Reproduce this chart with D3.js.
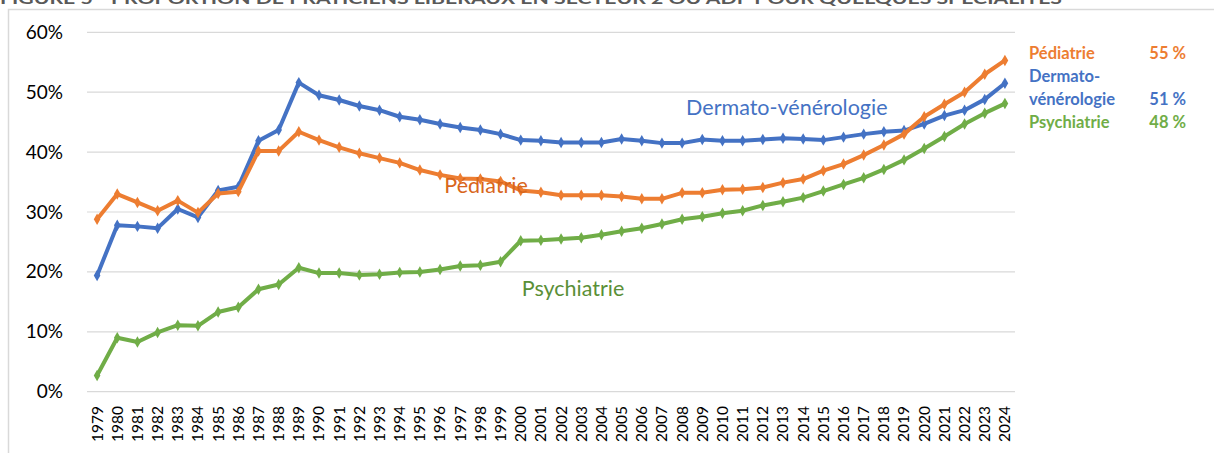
<!DOCTYPE html>
<html>
<head>
<meta charset="utf-8">
<script src="https://cdn.jsdelivr.net/npm/d3@7"></script>
<style>
  body { margin: 0; background: #fff; }
  svg { display: block; font-family: Lato, "Open Sans", sans-serif; }
</style>
</head>
<body>
<svg id="chart" width="1214" height="453"></svg>
<script>
const years = d3.range(1979, 2025).map(String);

const dermato = [19.4, 27.8, 27.6, 27.3, 30.5, 29.1, 33.6, 34.2, 41.9, 43.7,
  51.6, 49.5, 48.7, 47.7, 47.0, 45.9, 45.4, 44.7, 44.1, 43.7,
  43.0, 42.0, 41.9, 41.6, 41.6, 41.6, 42.2, 41.9, 41.5, 41.5,
  42.1, 41.9, 41.9, 42.1, 42.3, 42.2, 42.0, 42.5, 43.0, 43.4,
  43.6, 44.7, 46.1, 47.0, 48.8, 51.5];

const pediatrie = [28.8, 33.0, 31.6, 30.2, 31.9, 29.9, 33.1, 33.4, 40.2, 40.2,
  43.4, 42.0, 40.8, 39.8, 39.0, 38.2, 37.0, 36.2, 35.6, 35.5,
  35.1, 33.6, 33.3, 32.8, 32.8, 32.8, 32.6, 32.2, 32.2, 33.2,
  33.2, 33.7, 33.8, 34.1, 34.9, 35.5, 36.9, 38.0, 39.5, 41.2,
  43.0, 45.9, 48.0, 50.0, 53.0, 55.3];

const psychiatrie = [2.7, 9.0, 8.3, 9.9, 11.1, 11.0, 13.3, 14.1, 17.1, 17.9,
  20.7, 19.8, 19.8, 19.5, 19.6, 19.9, 20.0, 20.4, 21.0, 21.1,
  21.7, 25.2, 25.3, 25.5, 25.7, 26.2, 26.8, 27.3, 28.0, 28.8,
  29.2, 29.8, 30.2, 31.1, 31.7, 32.4, 33.5, 34.6, 35.7, 37.1,
  38.7, 40.6, 42.6, 44.7, 46.5, 48.1];

const yTicks = [0, 10, 20, 30, 40, 50, 60];

const series = [
  { name: "Dermato-vénérologie", values: dermato, color: "#4472C4" },
  { name: "Pédiatrie", values: pediatrie, color: "#ED7D31" },
  { name: "Psychiatrie", values: psychiatrie, color: "#70AD47" }
];

// legend on the right: label lines + final value
const legendRows = [
  { lines: ["Pédiatrie"], value: "55 %", color: "#ED7D31" },
  { lines: ["Dermato-", "vénérologie"], value: "51 %", color: "#4472C4" },
  { lines: ["Psychiatrie"], value: "48 %", color: "#70AD47" }
];

const svg = d3.select("#chart");

// title, cut off at the top of the picture like in the source
svg.append("text")
  .attr("x", 0).attr("y", 4)
  .attr("fill", "#595959")
  .attr("font-size", 16).attr("font-weight", "bold")
  .attr("textLength", 1062).attr("lengthAdjust", "spacingAndGlyphs")
  .text("FIGURE 5 - PROPORTION DE PRATICIENS LIBÉRAUX EN SECTEUR 2 OU ADP POUR QUELQUES SPÉCIALITÉS");

// chart frame
svg.append("rect")
  .attr("x", 8.5).attr("y", 9.5)
  .attr("width", 1230).attr("height", 470)
  .attr("fill", "none").attr("stroke", "#D9D9D9").attr("stroke-width", 1.5);

const x = d3.scaleBand().domain(years).range([87, 1015]);
const y = d3.scaleLinear().domain([0, 60]).range([391.7, 32.3]);

// gridlines
svg.append("g")
  .selectAll("line")
  .data(yTicks)
  .join("line")
  .attr("x1", 87).attr("x2", 1015)
  .attr("y1", d => y(d)).attr("y2", d => y(d))
  .attr("stroke", "#D9D9D9").attr("stroke-width", 1.2);

// y axis labels
const yAxis = svg.append("g")
  .attr("transform", "translate(71,0)")
  .call(d3.axisLeft(y).tickValues(yTicks).tickFormat(d => d + "%").tickSize(0).tickPadding(8));
yAxis.select(".domain").remove();
yAxis.selectAll("text")
  .attr("font-family", "Lato, sans-serif")
  .attr("font-size", 19)
  .attr("fill", "#000");

// x axis labels (rotated)
const xAxis = svg.append("g")
  .attr("transform", "translate(0,400)")
  .call(d3.axisBottom(x).tickSize(0).tickPadding(0));
xAxis.select(".domain").remove();
xAxis.selectAll("text")
  .attr("font-family", "Lato, sans-serif")
  .attr("font-size", 15.5)
  .attr("fill", "#000")
  .attr("text-anchor", "end")
  .attr("dy", "0.35em")
  .attr("transform", "translate(0,6) rotate(-90)")
  .attr("y", 0).attr("x", 0);

const cx = (d, i) => x(years[i]) + x.bandwidth() / 2;

const line = d3.line()
  .x((d, i) => cx(d, i))
  .y(d => y(d));

const diamond = d3.symbol().type(d3.symbolDiamond).size(38);

series.forEach(s => {
  const g = svg.append("g").attr("class", "series");
  g.append("path")
    .datum(s.values)
    .attr("d", line)
    .attr("fill", "none")
    .attr("stroke", s.color)
    .attr("stroke-width", 4)
    .attr("stroke-linejoin", "round");
  g.selectAll("path.marker")
    .data(s.values)
    .join("path")
    .attr("class", "marker")
    .attr("d", diamond)
    .attr("transform", (d, i) => `translate(${cx(d, i)},${y(d)})`)
    .attr("fill", s.color);
});

// inline labels next to the curves
const inlineLabels = [
  { text: "Dermato-vénérologie", year: "2014", val: 46.2, color: "#4472C4", dx: -107 },
  { text: "Pédiatrie", year: "1998", val: 33.1, color: "#D8661C", dx: -26 },
  { text: "Psychiatrie", year: "2001", val: 15.9, color: "#5A8F37", dx: -9 }
];
svg.append("g")
  .selectAll("text")
  .data(inlineLabels)
  .join("text")
  .attr("x", d => x(d.year) + d.dx)
  .attr("y", d => y(d.val))
  .attr("fill", d => d.color)
  .attr("font-size", 21.5)
  .text(d => d.text);

// right legend
const legend = svg.append("g").attr("font-weight", "bold").attr("font-size", 16.5);
let ly = 59;
legendRows.forEach(r => {
  r.lines.forEach((l, k) => {
    legend.append("text")
      .attr("x", 1029).attr("y", ly)
      .attr("fill", r.color)
      .text(l);
    if (k < r.lines.length - 1) ly += 22.5;
  });
  legend.append("text")
    .attr("x", 1186).attr("y", ly)
    .attr("text-anchor", "end")
    .attr("fill", r.color)
    .text(r.value);
  ly += 23;
});
</script>
</body>
</html>
